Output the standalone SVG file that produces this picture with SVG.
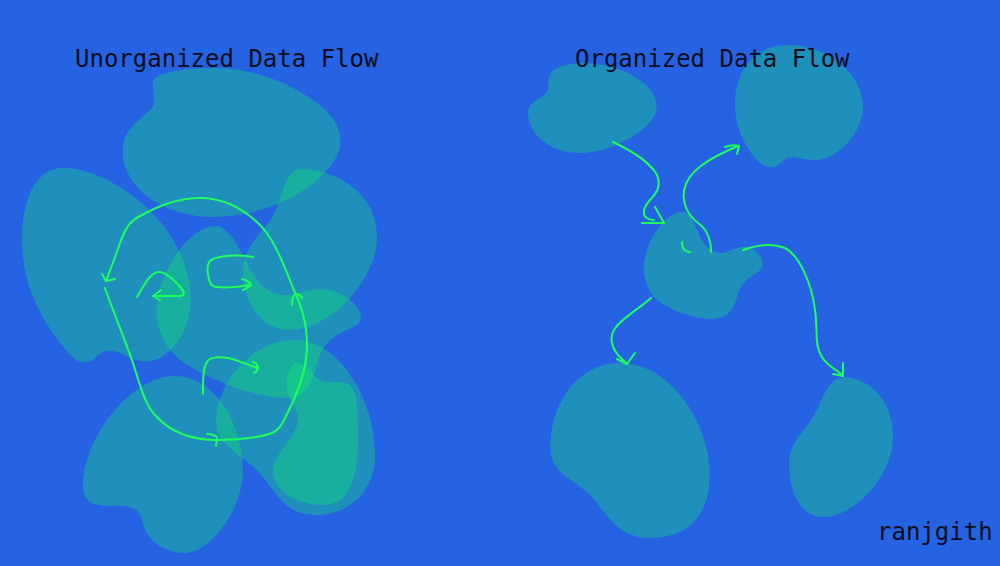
<svg xmlns="http://www.w3.org/2000/svg" width="1000" height="566" viewBox="0 0 1000 566">
<style>
.blob{fill:#10f860;fill-opacity:0.3;stroke:none}
.flow{fill:none;stroke:#1cff5c;stroke-width:2;stroke-linecap:round;stroke-linejoin:round}
.title{font-family:"DejaVu Sans Mono","Liberation Mono",monospace;font-size:24px;fill:#0b0d1c}
</style>
<rect x="0" y="0" width="1000" height="566" fill="#2563e3"/>
<g id="left-blobs">
<path id="blob-a" class="blob" d="M153,82 C155,72 185,68 217,68 C250,68 285,82 305,95 C335,113 342,130 340,145 C337,175 280,217 213,217 C165,217 127,190 123,157 C120,130 140,120 150,110 C158,102 152,92 153,82 Z"/>
<path id="blob-b" class="blob" d="M63,168 C105,168 165,210 183,260 C198,300 190,340 160,358 C145,366 130,358 120,353 C108,348 100,352 95,358 C90,363 80,365 70,355 C45,325 22,290 22,240 C22,200 35,168 63,168 Z"/>
<path id="blob-c" class="blob" d="M215,226 C228,226 238,245 248,265 C258,285 270,297 290,295 C310,290 330,283 350,300 C362,310 365,320 355,326 C340,334 325,338 318,360 C312,385 305,398 287,398 C260,398 210,382 180,360 C162,345 155,325 157,305 C160,270 190,226 215,226 Z"/>
<path id="blob-d" class="blob" d="M300,169 C340,170 377,195 377,237 C377,280 330,330 290,330 C260,330 243,300 243,270 C243,245 265,232 275,212 C283,195 285,170 300,169 Z"/>
<path id="blob-e" class="blob" d="M295,340 C340,340 375,400 375,455 C375,495 345,515 317,515 C290,515 280,500 267,482 C250,460 235,455 222,440 C212,428 215,400 232,375 C250,352 270,340 295,340 Z"/>
<path id="blob-f" class="blob" d="M297,363 C307,363 313,378 322,381 C330,383 340,380 348,384 C358,390 358,410 358,440 C358,480 348,505 323,505 C295,505 273,490 273,470 C273,455 298,435 298,420 C298,405 285,400 287,380 C288,370 292,363 297,363 Z"/>
<path id="blob-g" class="blob" d="M175,376 C215,376 243,425 243,470 C243,510 210,553 185,553 C165,553 145,540 142,520 C138,505 125,505 110,506 C90,506 83,500 83,485 C83,440 130,376 175,376 Z"/>
</g>
<g id="right-blobs">
<path id="node-source" class="blob" d="M550,75 C555,62 590,60 615,68 C645,78 660,95 656,112 C650,132 610,153 580,153 C550,153 530,135 528,115 C527,100 545,98 548,90 C549,85 547,80 550,75 Z"/>
<path id="node-top-right" class="blob" d="M787,45 C830,45 863,75 863,107 C863,130 840,160 815,160 C800,160 795,155 787,158 C780,162 778,168 770,167 C755,165 735,135 735,105 C735,70 755,45 787,45 Z"/>
<path id="node-center" class="blob" d="M680,212 C688,210 693,218 698,232 C703,245 710,253 722,253 C730,253 735,245 748,247 C758,250 765,260 762,268 C758,274 748,276 742,285 C735,295 738,318 712,319 C695,319 668,310 655,298 C645,288 642,270 645,258 C650,235 665,215 680,212 Z"/>
<path id="node-bottom-left" class="blob" d="M620,363 C665,363 700,410 708,455 C715,500 700,538 650,538 C615,538 605,510 590,495 C575,480 555,475 551,455 C548,435 555,410 565,395 C580,372 600,363 620,363 Z"/>
<path id="node-bottom-right" class="blob" d="M845,377 C875,380 893,405 893,437 C893,475 855,517 823,517 C800,517 789,490 789,465 C789,445 800,435 810,422 C822,405 825,378 845,377 Z"/>
</g>
<g id="connectors">
<path class="flow" d="M105,288 C112,308 125,340 133,363 C140,385 145,405 155,415 C170,432 190,440 217,440 C240,440 262,437 272,433 C280,430 283,422 288,412 C298,392 307,370 307,345 C307,320 300,303 293,288 C285,268 275,240 260,225 C245,210 225,198 200,198 C175,198 155,208 140,216 C128,222 124,232 120,243 C115,258 110,270 106,281"/>
<path class="flow" d="M102,274 L106,281 L115,279"/>
<path class="flow" d="M292,305 C292,298 294,294 296,294 C299,294 301,296 302,298"/>
<path class="flow" d="M207,434 C212,434 217,436 217,438 L216,446"/>
<path class="flow" d="M137,297 C143,287 150,273 158,272 C166,271 176,282 181,288 C186,294 184,296 178,296 L154,296"/>
<path class="flow" d="M161,290 L153,296 L160,300"/>
<path class="flow" d="M253,257 C240,255 225,255 213,259 C207,261 207,268 208,275 C209,282 211,287 216,287 C228,288 240,287 250,285"/>
<path class="flow" d="M242,279 C246,280 250,282 251,285 C249,287 246,289 243,290"/>
<path class="flow" d="M203,394 C203,380 203,368 207,362 C211,356 220,357 228,358 C238,360 248,365 258,368"/>
<path class="flow" d="M253,362 C258,363 260,370 254,373"/>
<path class="flow" d="M613,142 C630,150 650,162 657,175 C662,187 655,195 650,200 C643,208 642,215 647,218 C650,220 652,220 654,220"/>
<path class="flow" d="M655,207 L664,223 L642,223"/>
<path class="flow" d="M711,252 C711,240 708,230 698,223 C688,215 682,205 684,190 C688,172 705,160 738,146"/>
<path class="flow" d="M725,147 C730,145 735,145 739,146 L737,154"/>
<path class="flow" d="M682,242 C682,248 684,252 690,252"/>
<path class="flow" d="M651,298 C640,308 625,316 616,327 C609,336 611,346 618,355 L627,364"/>
<path class="flow" d="M617,359 L627,364 L635,353"/>
<path class="flow" d="M743,250 C755,246 770,242 785,248 C800,256 812,285 815,310 C818,330 814,345 822,357 C828,367 838,370 843,376"/>
<path class="flow" d="M833,374 L843,376 L843,363"/>
</g>
<text class="title" x="75" y="67">Unorganized Data Flow</text>
<text class="title" x="575" y="67">Organized Data Flow</text>
<text class="title" x="877" y="540">ranjgith</text>
</svg>
